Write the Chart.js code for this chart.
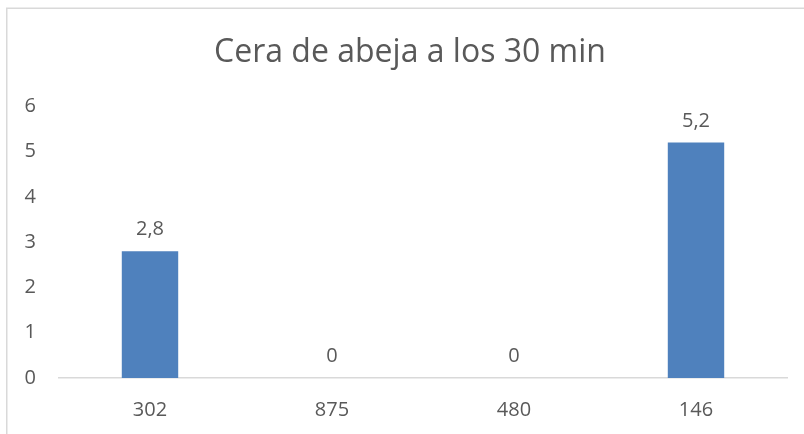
<!DOCTYPE html>
<html>
<head>
<meta charset="utf-8">
<script src="https://cdn.jsdelivr.net/npm/chart.js@4/dist/chart.umd.min.js"></script>
<style>
  html, body { margin: 0; padding: 0; background: #ffffff; }
  #wrap { width: 804px; height: 434px; position: relative; }
</style>
</head>
<body>
<div id="wrap"><canvas id="chart" width="804" height="434"></canvas></div>
<script>
// Muestras y porcentaje de cera de abeja a los 30 min
const categories = ['302', '875', '480', '146'];
const values = [2.8, 0, 0, 5.2];
const yTicks = [0, 1, 2, 3, 4, 5, 6];
const chartTitle = 'Cera de abeja a los 30 min';

const FONT = "'Open Sans', 'Noto Sans', sans-serif";
const TEXT = '#595959';
const LINE = '#d9d9d9';

// Light frame around the chart (runs off the right and bottom edges)
const framePlugin = {
  id: 'frame',
  beforeDraw(chart) {
    const ctx = chart.ctx;
    ctx.save();
    ctx.strokeStyle = LINE;
    ctx.lineWidth = 1.5;
    ctx.strokeRect(6.75, 8.25, chart.width + 20, chart.height + 20);
    ctx.restore();
  }
};

// Centre the title over the full frame rather than the padded layout box
const titleSpan = {
  id: 'titleSpan',
  afterLayout(chart) {
    if (chart.titleBlock) {
      chart.titleBlock.left = 16;
      chart.titleBlock.right = chart.width;
    }
  }
};

// Value labels above each bar, decimal comma
const valueLabels = {
  id: 'valueLabels',
  afterDatasetsDraw(chart) {
    const ctx = chart.ctx;
    const meta = chart.getDatasetMeta(0);
    ctx.save();
    ctx.font = '20px ' + FONT;
    ctx.fillStyle = TEXT;
    ctx.textAlign = 'center';
    ctx.textBaseline = 'alphabetic';
    meta.data.forEach((bar, i) => {
      const txt = String(values[i]).replace('.', ',');
      ctx.fillText(txt, bar.x, bar.y - 16);
    });
    ctx.restore();
  }
};

new Chart(document.getElementById('chart'), {
  type: 'bar',
  data: {
    labels: categories,
    datasets: [{
      data: values,
      backgroundColor: '#4f81bd',
      borderWidth: 0,
      categoryPercentage: 1,
      barPercentage: 0.31
    }]
  },
  options: {
    responsive: false,
    animation: false,
    events: [],
    layout: { padding: { left: 0, right: 17, top: 0, bottom: 0 } },
    plugins: {
      legend: { display: false },
      tooltip: { enabled: false },
      title: {
        display: true,
        text: chartTitle,
        color: TEXT,
        font: { family: FONT, size: 32, weight: 'normal', lineHeight: 1.2 },
        padding: { top: 34, bottom: 34 }
      }
    },
    scales: {
      x: {
        grid: { display: false, drawTicks: false },
        border: { display: true, color: LINE, width: 1.5 },
        ticks: { color: TEXT, font: { family: FONT, size: 20 }, padding: 20, maxRotation: 0 },
        afterFit(scale) { scale.height = 56; }
      },
      y: {
        min: 0,
        max: 6,
        afterBuildTicks(scale) { scale.ticks = yTicks.map(v => ({ value: v })); },
        grid: { display: false, drawTicks: false },
        border: { display: false },
        ticks: { color: TEXT, font: { family: FONT, size: 20 }, padding: 23 },
        afterFit(scale) { scale.width = 59; }
      }
    }
  },
  plugins: [framePlugin, titleSpan, valueLabels]
});
</script>
</body>
</html>
